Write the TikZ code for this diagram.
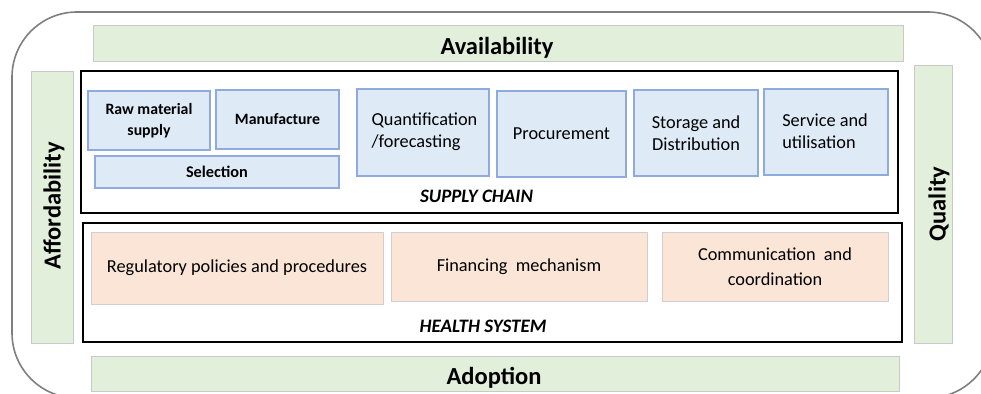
\documentclass[tikz,border=0pt]{standalone}
\usepackage{fontspec}
\setmainfont{Carlito}
\definecolor{grfill}{HTML}{E2EFDA}
\definecolor{grline}{HTML}{C9C9C9}
\definecolor{blfill}{HTML}{DEEBF7}
\definecolor{blline}{HTML}{8FAADC}
\definecolor{pkfill}{HTML}{FBE5D6}
\definecolor{pkline}{HTML}{D0CECE}
\definecolor{outline}{HTML}{7F7F7F}
\tikzset{
  greenbar/.style={draw=grline, fill=grfill, line width=1pt, inner sep=0pt},
  bluebox/.style={draw=blline, fill=blfill, line width=1.1pt, inner sep=0pt, align=center},
  peachbox/.style={draw=pkline, fill=pkfill, line width=1pt, inner sep=0pt, align=center},
  frame/.style={draw=black, line width=2pt},
  bigtxt/.style={font=\fontsize{24.5}{28}\selectfont\bfseries, inner sep=0pt},
  midtxt/.style={font=\fontsize{18.3}{22}\selectfont, inner sep=0pt},
  captxt/.style={font=\fontsize{19}{22}\selectfont\bfseries\itshape, inner sep=0pt}
}
\begin{document}
\begin{tikzpicture}[x=1pt,y=-1pt]
\useasboundingbox (0,0) rectangle (981,393);
% outer rounded frame
\draw[outline, line width=1.6pt, rounded corners=65pt] (12,12) rectangle (993,398);

% green bars
\node[greenbar, minimum width=810pt, minimum height=36pt] (avail) at (498,44) {};
\node[bigtxt] (availt) at (497,48) {Availability};
\node[greenbar, minimum width=808pt, minimum height=35pt] (adopt) at (495,373.5) {};
\node[bigtxt] (adoptt) at (494,378) {Adoption};
\node[greenbar, minimum width=42pt, minimum height=271pt] (afford) at (52,207.5) {};
\node[bigtxt, rotate=90] (affordt) at (54,206) {Affordability};
\node[greenbar, minimum width=38pt, minimum height=277pt] (qual) at (933,204.5) {};
\node[bigtxt, rotate=90] (qualt) at (939,204) {Quality};

% frames
\draw[frame] (81,71) rectangle (898,213);
\draw[frame] (83,223) rectangle (902,342);

% supply chain boxes
\node[bluebox, minimum width=122pt, minimum height=59pt, font=\fontsize{15.8}{21}\selectfont\bfseries] (raw) at (149,120.5) {Raw material\\supply};
\node[bluebox, minimum width=123pt, minimum height=59pt, font=\fontsize{15.8}{21}\selectfont\bfseries] (manu) at (277.5,119.5) {Manufacture};
\node[bluebox, minimum width=244pt, minimum height=32pt, font=\fontsize{16.3}{21}\selectfont\bfseries] (sel) at (217,172) {Selection};
\node[bluebox, minimum width=132pt, minimum height=87pt] (quant) at (423,132.5) {};
\node[midtxt, align=left] (quantt) at (424.5,132) {Quantification\\/forecasting};
\node[bluebox, minimum width=129pt, minimum height=86pt, font=\fontsize{18.3}{22}\selectfont] (proc) at (561.5,134) {Procurement};
\node[bluebox, minimum width=124pt, minimum height=86pt, font=\fontsize{18.3}{22}\selectfont] (stor) at (696,133) {Storage and\\Distribution};
\node[bluebox, minimum width=124pt, minimum height=86pt] (serv) at (826,132) {};
\node[midtxt, align=left] (servt) at (825,131) {Service and\\utilisation};
\node[captxt] (sc) at (476.5,196) {SUPPLY CHAIN};

% health system boxes
\node[peachbox, minimum width=292pt, minimum height=72pt, font=\fontsize{18.3}{22}\selectfont] (reg) at (237,268) {Regulatory policies and procedures};
\node[peachbox, minimum width=256pt, minimum height=69pt, font=\fontsize{18.3}{22}\selectfont] (fin) at (519,266.5) {Financing\ \ mechanism};
\node[peachbox, minimum width=226pt, minimum height=69pt, font=\fontsize{18.3}{25}\selectfont] (comm) at (775,266.5) {Communication\ \ and\\coordination};
\node[captxt] (hs) at (483,326) {HEALTH SYSTEM};
\end{tikzpicture}
\end{document}
